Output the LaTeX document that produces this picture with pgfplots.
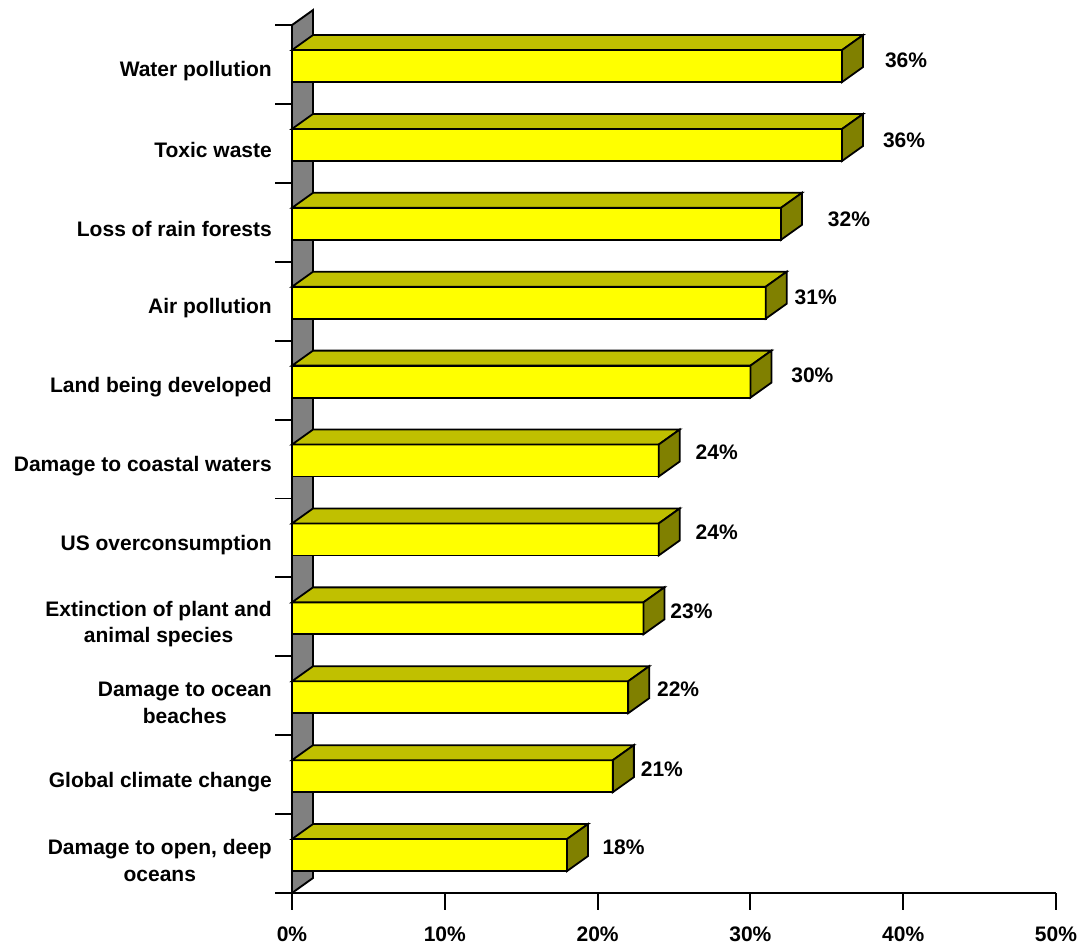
\documentclass[border=0pt]{standalone}
\usepackage{fontspec}
\setmainfont{Liberation Sans}
\usepackage{pgfplots}
\pgfplotsset{compat=1.18}
\usepackage{pgfplotstable}

\definecolor{barfront}{RGB}{255,255,0}
\definecolor{bartop}{RGB}{192,192,0}
\definecolor{barside}{RGB}{128,128,0}
\definecolor{wallgray}{RGB}{128,128,128}

% idx: row (0 = bottom), v: share in percent, lx/ly: label offset in pt
\pgfplotstableread{
idx v  lx   ly
10  36 64   4.5
9   36 62   3.5
8   32 68   3.5
7   31 50   4
6   30 62   5
5   24 58   7
4   24 58   6
3   23 48   6
2   22 50   6.5
1   21 49   5.5
0   18 56.5 6.5
}\concerns

\begin{document}
\begin{tikzpicture}[font=\fontsize{21}{26.5}\selectfont\bfseries]
\useasboundingbox (-292pt,-53pt) rectangle (789pt,893pt);
\begin{axis}[
  at={(0pt,0pt)}, anchor=south west,
  x=15.28pt, y=78.9pt,
  xmin=0, xmax=50, ymin=-0.5, ymax=10.5,
  axis x line=bottom, axis y line=left,
  axis line style={line width=1.9pt, black, -},
  clip=false,
  xtick pos=bottom, ytick pos=left,
  xtick align=outside, ytick align=outside,
  major tick length=17pt,
  xtick={0,10,...,50},
  xticklabels={0\%,10\%,20\%,30\%,40\%,50\%},
  xticklabel style={inner sep=0pt, yshift=-17pt},
  ytick={-0.5,0.5,...,10.5},
  yticklabels={},
  extra y ticks={0,...,10},
  extra y tick labels={{Damage to open, deep\\oceans},Global climate change,{Damage to ocean\\beaches},{Extinction of plant and\\animal species},US overconsumption,Damage to coastal waters,Land being developed,Air pollution,Loss of rain forests,Toxic waste,Water pollution},
  extra y tick style={major tick length=0pt,
    yticklabel style={align=center, inner sep=0pt, xshift=-20pt, yshift=-7pt}},
]
% side wall
\addplot[fill=wallgray, draw=black, line width=1.9pt, line join=miter]
  coordinates {(0,-0.5) (1.3743,-0.3099) (1.3743,10.6901) (0,10.5) (0,-0.5)};

% 3D bars with value labels
\addplot[
  scatter, only marks, mark=*, mark size=0pt,
  mark options={draw=none, fill=none},
  visualization depends on={\thisrow{v} \as \val},
  visualization depends on={\thisrow{lx} \as \lblx},
  visualization depends on={\thisrow{ly} \as \lbly},
  scatter/@pre marker code/.code={%
    \begin{scope}[line width=1.8pt, line join=miter, draw=black]
      \filldraw[fill=barfront]
        ([yshift=-17.5pt]axis direction cs:-\val,0) rectangle (0pt,14.5pt);
      \filldraw[fill=bartop]
        ([yshift=14.5pt]axis direction cs:-\val,0)
        -- ([xshift=21pt,yshift=29.5pt]axis direction cs:-\val,0)
        -- (21pt,29.5pt) -- (0pt,14.5pt) -- cycle;
      \filldraw[fill=barside]
        (0pt,14.5pt) -- (21pt,29.5pt) -- (21pt,-2.5pt) -- (0pt,-17.5pt) -- cycle;
      \node[inner sep=0pt] at (\lblx pt,\lbly pt)
        {\pgfmathprintnumber[fixed,precision=0,assume math mode=true]{\val}\%};
    \end{scope}
  },
  scatter/@post marker code/.code={},
] table[x=v, y=idx] {\concerns};

% heavy tick marks below the x axis
\addplot[
  scatter, only marks, mark=*, mark size=0pt,
  mark options={draw=none, fill=none},
  scatter/@pre marker code/.code={%
    \draw[line width=1.9pt, black] (0pt,0pt) -- (0pt,-17pt);
  },
  scatter/@post marker code/.code={},
] coordinates {(0,-0.5) (10,-0.5) (20,-0.5) (30,-0.5) (40,-0.5) (50,-0.5)};

% heavy tick marks on the category borders
\addplot[
  scatter, only marks, mark=*, mark size=0pt,
  mark options={draw=none, fill=none},
  scatter/@pre marker code/.code={%
    \draw[line width=1.9pt, black] (0pt,0pt) -- (-17pt,0pt);
  },
  scatter/@post marker code/.code={},
] coordinates {(0,-0.5) (0,0.5) (0,1.5) (0,2.5) (0,3.5) (0,4.5) (0,5.5)
  (0,6.5) (0,7.5) (0,8.5) (0,9.5) (0,10.5)};
\end{axis}
\end{tikzpicture}
\end{document}
